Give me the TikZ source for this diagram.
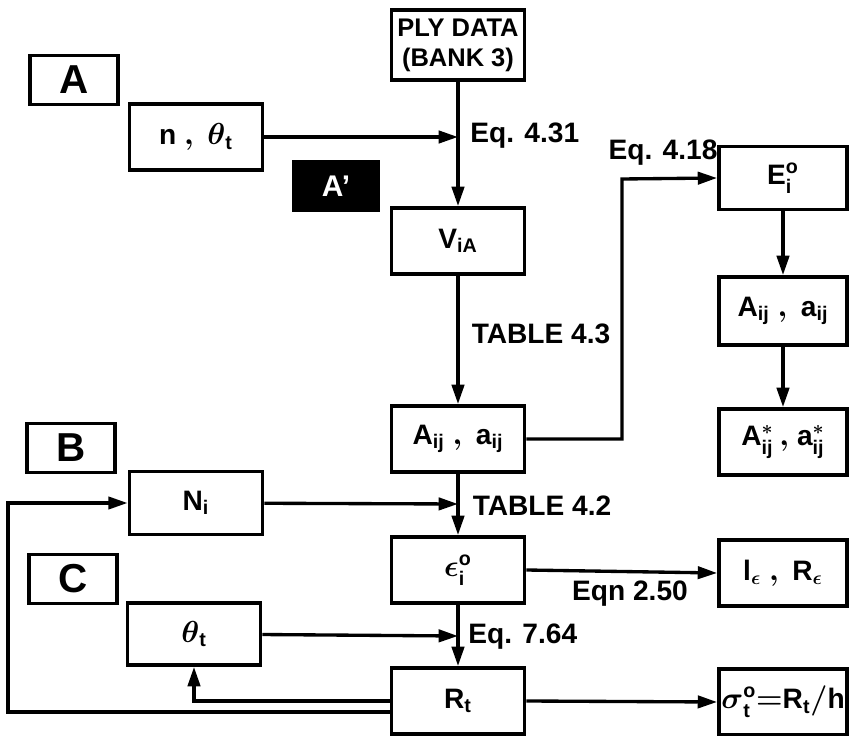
\documentclass[tikz,border=0pt]{standalone}
\usepackage{fontspec}
\usepackage{amsmath}
\setmainfont{Liberation Sans}
\usetikzlibrary{arrows.meta}
\begin{document}
\begin{tikzpicture}[x=0.02cm,y=-0.02cm]
\tikzstyle{box}=[draw, line width=2.2pt, inner sep=0pt, minimum width=2.66cm, minimum height=1.32cm, align=center, font=\fontsize{16}{18}\selectfont\bfseries\boldmath]
\tikzstyle{rbox}=[box, minimum width=2.56cm]
\tikzstyle{tag}=[draw, line width=2.2pt, inner sep=0pt, minimum width=1.76cm, minimum height=0.98cm, font=\fontsize{23}{25}\selectfont\bfseries]
\tikzstyle{lbl}=[inner sep=0pt, font=\fontsize{16}{18}\selectfont\bfseries]
\tikzstyle{ln}=[line width=1.9pt]
\tikzstyle{arr}=[ln, -{Triangle[length=11pt,width=7pt]}]
\useasboundingbox (0,0) rectangle (849,736);
% tags
\node[tag] (tagA) at (74,80) {A};
\node[tag, fill=black, text=white, minimum width=1.68cm, font=\fontsize{17}{19}\selectfont\bfseries] (tagAp) at (336,186) {A'};
\node[tag] (tagB) at (71,448) {B};
\node[tag] (tagC) at (73,579) {C};
% main column
\node[box, minimum height=1.4cm, font=\fontsize{14.5}{17}\selectfont\bfseries] (ply) at (458,45) {PLY DATA\\(BANK 3)};
\node[box] (via) at (458,241) {$\mathrm{V}_{\mathrm{iA}}$};
\node[box] (aij) at (458,439) {$\mathrm{A}_{\mathrm{ij}}\ ,\ \mathrm{a}_{\mathrm{ij}}$};
\node[box] (eps) at (458,570) {$\boldsymbol{\epsilon}^{\mathrm{o}}_{\mathrm{i}}$};
\node[box] (rt) at (458,701) {$\mathrm{R}_{\mathrm{t}}$};
% inputs
\node[box] (nth) at (196,137) {$\mathrm{n}\ ,\ \boldsymbol{\theta}_{\mathrm{t}}$};
\node[box, minimum height=1.26cm] (ni) at (196,503) {$\mathrm{N}_{\mathrm{i}}$};
\node[box, minimum height=1.24cm] (th) at (194,634) {$\boldsymbol{\theta}_{\mathrm{t}}$};
% right column
\node[rbox, minimum height=1.26cm] (ei) at (783,178) {$\mathrm{E}^{\mathrm{o}}_{\mathrm{i}}$};
\node[rbox, minimum height=1.36cm] (aij2) at (783,311) {$\mathrm{A}_{\mathrm{ij}}\ ,\ \mathrm{a}_{\mathrm{ij}}$};
\node[rbox] (aijs) at (783,442) {$\mathrm{A}_{\mathrm{ij}}^{*}\,\mathrm{,}\ \mathrm{a}_{\mathrm{ij}}^{*}$};
\node[rbox] (le) at (783,573) {$\mathrm{l}_{\boldsymbol{\epsilon}}\ ,\ \mathrm{R}_{\boldsymbol{\epsilon}}$};
\node[rbox] (sig) at (783,702) {$\boldsymbol{\sigma}^{\mathrm{o}}_{\mathrm{t}}\mathrm{{=}R}_{\mathrm{t}}\mathrm{/h}$};
% joints
\coordinate (j1) at (458,137);
\coordinate (j2) at (458,504);
\coordinate (j3) at (458,636);
\coordinate (k1) at (622,179);
\coordinate (fb) at (8,503);
% labels
\node[lbl, anchor=west] (l431) at (470,136) {Eq. 4.31};
\node[lbl] (l418) at (663,153) {Eq. 4.18};
\node[lbl] (t43) at (541,334) {TABLE 4.3};
\node[lbl] (t42) at (542,506) {TABLE 4.2};
\node[lbl] (l250) at (630,594) {Eqn 2.50};
\node[lbl, anchor=west] (l764) at (468,637) {Eq. 7.64};
% connectors
\draw[arr] (ply) -- (via);
\draw[arr] (nth) -- (j1);
\draw[arr] (via) -- (aij);
\draw[arr] (aij.east) -| (k1) -- (ei.west);
\draw[arr] (ei) -- (aij2);
\draw[arr] (aij2) -- (aijs);
\draw[arr] (aij) -- (eps);
\draw[arr] (ni) -- (j2);
\draw[arr] (eps) -- (rt);
\draw[arr] (th) -- (j3);
\draw[arr] (eps.east) -- (le.west);
\draw[arr] (rt.east) -- (sig.west);
\draw[arr] (rt.west) -| (th.south);
\draw[arr] ([yshift=-0.22cm]rt.west) -| (fb) -- (ni.west);
\end{tikzpicture}
\end{document}
